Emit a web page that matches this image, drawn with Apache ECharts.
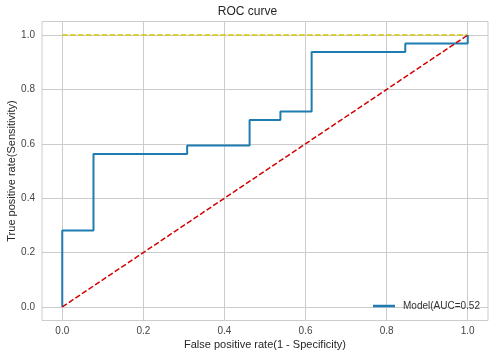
<!DOCTYPE html>
<html>
<head>
<meta charset="utf-8">
<script src="https://cdn.jsdelivr.net/npm/echarts@6/dist/echarts.min.js"></script>
<style>html,body{margin:0;padding:0;background:#fff;}#c{width:495px;height:359px;}</style>
</head>
<body>
<div id="c"></div>
<script>
const fpr = [0, 0, 0.077, 0.077, 0.308, 0.308, 0.462, 0.462, 0.538, 0.538, 0.615, 0.615, 0.846, 0.846, 1.0, 1.0];
const tpr = [0, 0.281, 0.281, 0.5625, 0.5625, 0.594, 0.594, 0.6875, 0.6875, 0.719, 0.719, 0.9375, 0.9375, 0.969, 0.969, 1.0];
const diagX = [0, 1];
const diagY = [0, 1];
const perfectX = [0, 1];
const perfectY = [1, 1];
const tickValues = [0.0, 0.2, 0.4, 0.6, 0.8, 1.0];
const seriesName = 'Model(AUC=0.52';

const font = 'Liberation Sans, Arial, sans-serif';
const chart = echarts.init(document.getElementById('c'), null, {renderer: 'canvas'});
const zip = (a, b) => a.map((v, i) => [v, b[i]]);
const axisCommon = {
  type: 'value', min: -0.05, max: 1.05,
  axisLine: {show: false, onZero: false},
  axisTick: {show: false, customValues: tickValues},
  axisLabel: {customValues: tickValues, formatter: v => v.toFixed(1), color: '#444', fontSize: 10, fontFamily: font},
  splitLine: {show: true, lineStyle: {color: '#cccccc', width: 1}},
  nameLocation: 'middle',
  nameMoveOverlap: false,
  nameTextStyle: {color: '#262626', fontSize: 11, fontFamily: font}
};
chart.setOption({
  animation: false,
  title: {text: 'ROC curve', left: 'center', top: 1, textStyle: {fontSize: 12, fontWeight: 'normal', color: '#262626', fontFamily: font}},
  grid: {left: 42, right: 7, top: 21.5, bottom: 38.5, show: true, borderColor: '#cccccc', borderWidth: 1, containLabel: false, outerBoundsMode: 'none'},
  legend: {
    data: [seriesName], left: 368, top: 296, icon: 'rect', itemWidth: 22, itemHeight: 2.5,
    textStyle: {fontSize: 10, color: '#333', fontFamily: font, padding: [0, 0, 0, 3]}
  },
  xAxis: Object.assign({}, axisCommon, {name: 'False positive rate(1 - Specificity)', nameGap: 19, axisLabel: Object.assign({}, axisCommon.axisLabel, {margin: 6})}),
  yAxis: Object.assign({}, axisCommon, {name: 'True positive rate(Sensitivity)', nameGap: 25, axisLabel: Object.assign({}, axisCommon.axisLabel, {margin: 7})}),
  series: [
    {type: 'line', data: zip(perfectX, perfectY), symbol: 'none', silent: true,
     lineStyle: {color: '#d4c30a', width: 1.5, type: [5.5, 2.4]}},
    {name: seriesName, type: 'line', data: zip(fpr, tpr), symbol: 'none', z: 3,
     lineStyle: {color: '#1f7cb0', width: 2}, itemStyle: {color: '#1f7cb0'}},
    {type: 'line', data: zip(diagX, diagY), symbol: 'none', silent: true, z: 4,
     lineStyle: {color: '#d40000', width: 1.5, type: [5.5, 2.4]}}
  ]
});
</script>
</body>
</html>
